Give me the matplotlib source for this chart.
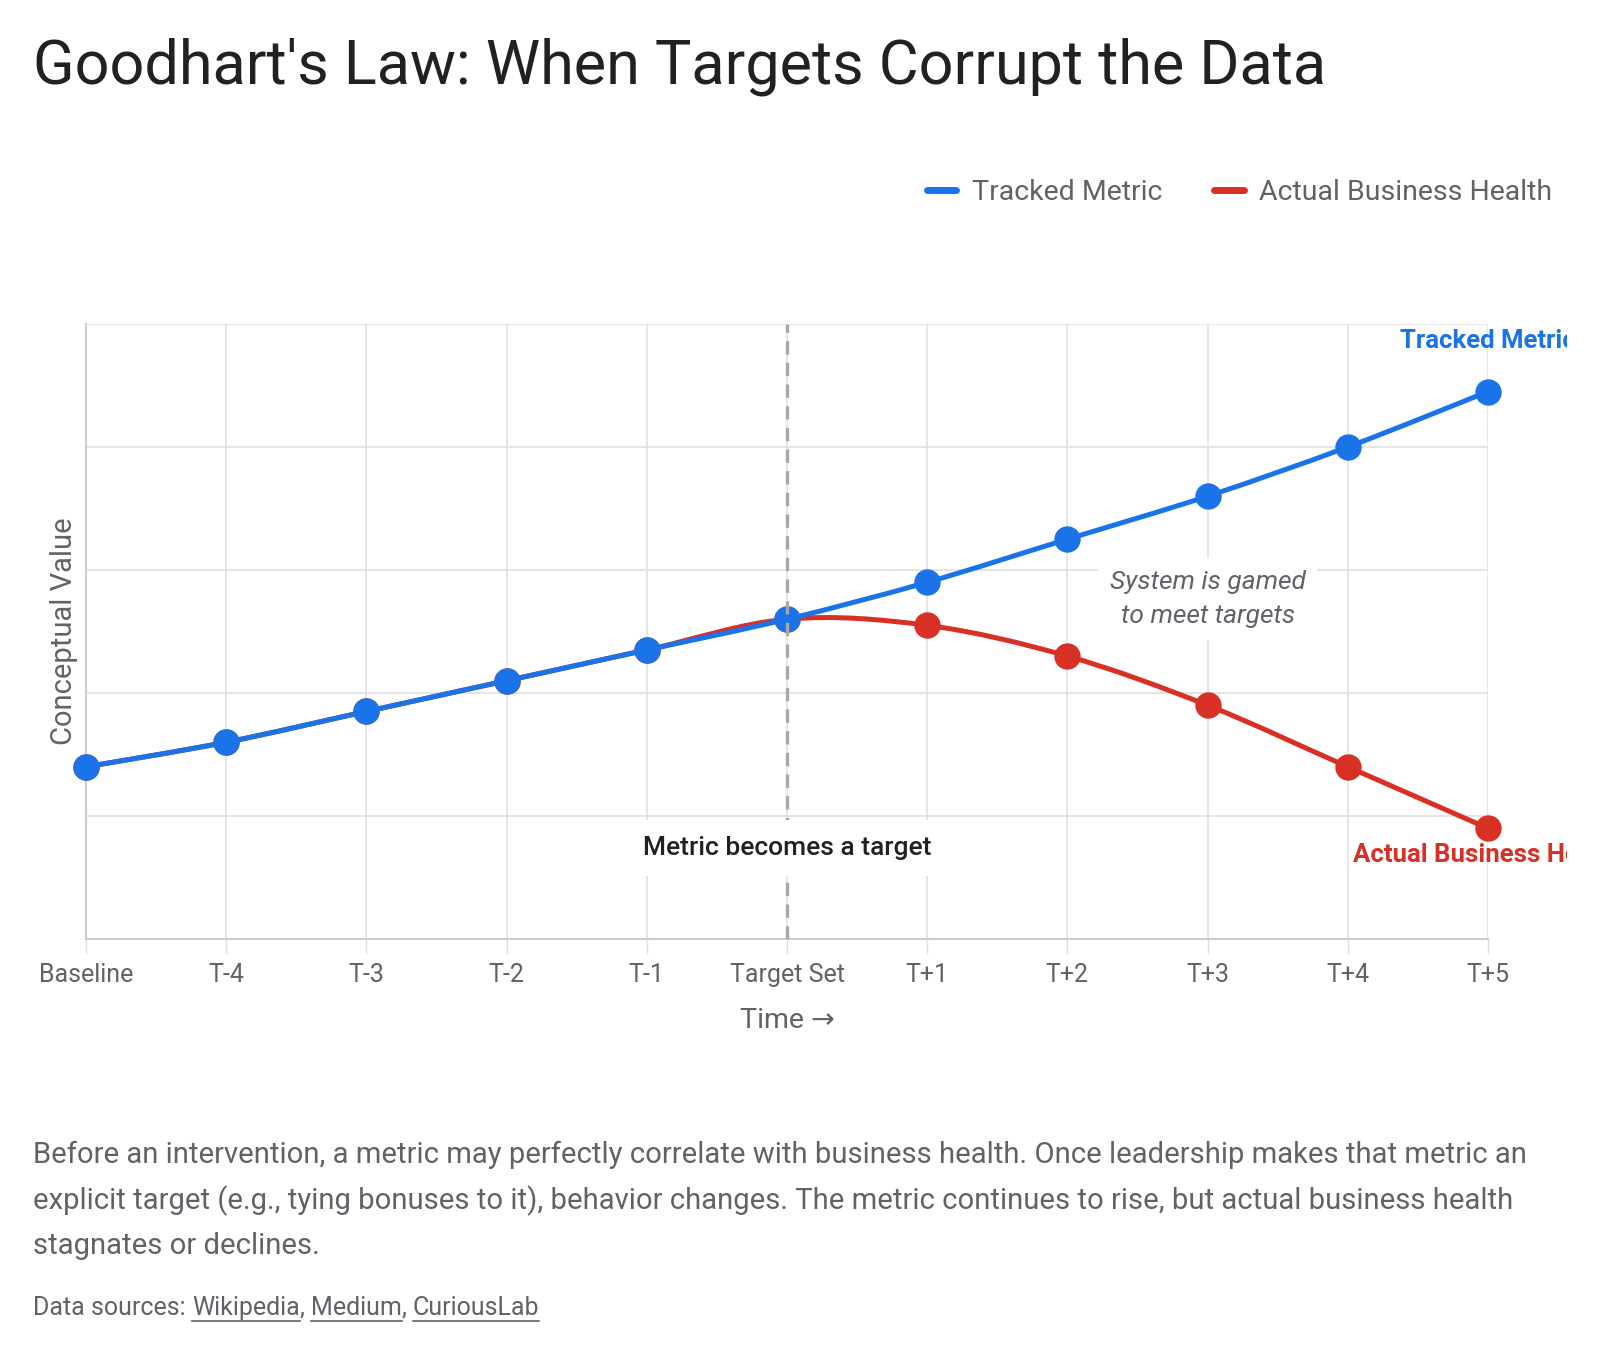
import matplotlib
matplotlib.use("Agg")
import matplotlib.pyplot as plt
from matplotlib.path import Path
from matplotlib.patches import PathPatch
from matplotlib.lines import Line2D
from matplotlib.transforms import Bbox, TransformedBbox

plt.rcParams['font.family'] = ['Roboto', 'DejaVu Sans']

# data
periods = ["Baseline", "T-4", "T-3", "T-2", "T-1", "Target Set",
           "T+1", "T+2", "T+3", "T+4", "T+5"]
tracked = [28, 32, 37, 42, 47, 52, 58, 65, 72, 80, 89]
health = [28, 32, 37, 42, 47, 52, 51, 46, 38, 28, 18]

BLUE = "#1a73e8"
RED = "#d93025"
GRID = "#e0e0e0"
TXT = "#5f6368"


def smooth_path(xs, ys):
    # catmull-rom style bezier through the points
    verts = [(xs[0], ys[0])]
    codes = [Path.MOVETO]
    n = len(xs)
    for i in range(n - 1):
        x0, y0 = xs[max(i - 1, 0)], ys[max(i - 1, 0)]
        x1, y1 = xs[i], ys[i]
        x2, y2 = xs[i + 1], ys[i + 1]
        x3, y3 = xs[min(i + 2, n - 1)], ys[min(i + 2, n - 1)]
        c1 = (x1 + (x2 - x0) / 6, y1 + (y2 - y0) / 6)
        c2 = (x2 - (x3 - x1) / 6, y2 - (y3 - y1) / 6)
        verts += [c1, c2, (x2, y2)]
        codes += [Path.CURVE4] * 3
    return Path(verts, codes)


fig = plt.figure(figsize=(16, 13.56), dpi=100)
ax = fig.add_axes([0.05375, 0.3075, 0.87625, 0.4536])

x = list(range(len(periods)))

ax.add_patch(PathPatch(smooth_path(x, health), fill=False, edgecolor=RED,
                       lw=3.6, capstyle='round', joinstyle='round', zorder=3,
                       clip_on=False))
ax.plot(x, health, 'o', color=RED, ms=18, zorder=4, clip_on=False)
ax.add_patch(PathPatch(smooth_path(x, tracked), fill=False, edgecolor=BLUE,
                       lw=3.6, capstyle='round', joinstyle='round', zorder=5,
                       clip_on=False))
ax.plot(x, tracked, 'o', color=BLUE, ms=18, zorder=6, clip_on=False)

ax.axvline(5, color="#a8a8a8", lw=2.4, ls=(0, (4, 2.5)), zorder=7)

ax.set_xlim(0, 10)
ax.set_ylim(0, 100)
ax.set_xticks(x)
ax.set_xticklabels(periods, fontsize=18, color=TXT)
ax.set_yticks([0, 20, 40, 60, 80, 100])
ax.set_yticklabels([])
ax.tick_params(axis='x', length=11, width=1, color=GRID, pad=6)
ax.tick_params(axis='y', length=0)
ax.grid(True, color=GRID, lw=1.2, zorder=0)
ax.set_axisbelow(True)
for s in ['top', 'right']:
    ax.spines[s].set_visible(False)
for s in ['left', 'bottom']:
    ax.spines[s].set_color("#cccccc")
    ax.spines[s].set_linewidth(1.5)

ax.set_ylabel("Conceptual Value", fontsize=21, color=TXT, labelpad=2)
ax.set_xlabel("Time \u2192", fontsize=20.5, color=TXT, labelpad=15)

ax.text(5, 14.8, "Metric becomes a target", ha='center', va='center',
        fontsize=19, fontweight='medium', color="#202124", zorder=8,
        bbox=dict(boxstyle='square,pad=0.6', fc='white', ec='none'))
ax.text(8, 55.3, "System is gamed\nto meet targets", ha='center', va='center',
        fontsize=19, style='italic', color=TXT, linespacing=1.5, zorder=8,
        bbox=dict(boxstyle='square,pad=0.45', fc='white', ec='none'))

clip = TransformedBbox(Bbox.from_extents(0, 0, 1567 / 1600, 1), fig.transFigure)
t1 = ax.text(10, tracked[-1] + 8.3, "Tracked Metric", ha='center', va='center',
             fontsize=18.5, fontweight='bold', color=BLUE, zorder=9)
t2 = ax.text(10, health[-1] - 4.4, "Actual Business Health", ha='center',
             va='center', fontsize=18.5, fontweight='bold', color=RED, zorder=9)
for t in (t1, t2):
    t.set_clip_on(True)
    t.set_clip_box(clip)

fig.text(33 / 1600, 1 - 67 / 1356, "Goodhart's Law: When Targets Corrupt the Data",
         fontsize=44, color="#202124", va='center', ha='left')

handles = [Line2D([0], [0], color=BLUE, lw=5, solid_capstyle='round'),
           Line2D([0], [0], color=RED, lw=5, solid_capstyle='round')]
fig.legend(handles, ["Tracked Metric", "Actual Business Health"], ncol=2,
           loc='center right', bbox_to_anchor=(1578 / 1600, 1 - 192 / 1356),
           frameon=False, fontsize=20.5, labelcolor=TXT, handlelength=1.05,
           handletextpad=0.55, columnspacing=1.8)

caption = ["Before an intervention, a metric may perfectly correlate with business health. Once leadership makes that metric an",
           "explicit target (e.g., tying bonuses to it), behavior changes. The metric continues to rise, but actual business health",
           "stagnates or declines."]
for i, line in enumerate(caption):
    fig.text(33 / 1600, 1 - (1155 + i * 45.5) / 1356, line, fontsize=21.1,
             color=TXT, va='center', ha='left')

# source line with underlined links
renderer = fig.canvas.get_renderer()
xpos = 33
ypos = 1308
parts = [("Data sources: ", False), ("Wikipedia", True), (", ", False),
         ("Medium", True), (", ", False), ("CuriousLab", True)]
for txt, link in parts:
    t = fig.text(xpos / 1600, 1 - ypos / 1356, txt, fontsize=18, color=TXT,
                 va='center', ha='left')
    bb = t.get_window_extent(renderer)
    if link:
        uy = 1 - (ypos + 13) / 1356
        fig.add_artist(Line2D([bb.x0 / 1600, bb.x1 / 1600], [uy, uy],
                              color=TXT, lw=1.2))
    xpos = bb.x1

fig.savefig("out.png", dpi=100, facecolor='white')
